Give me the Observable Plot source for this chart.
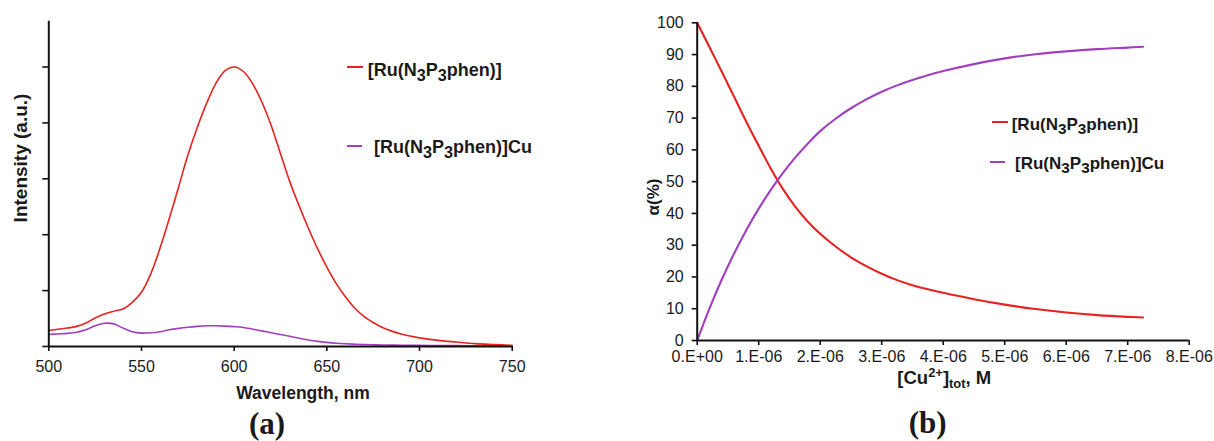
<!DOCTYPE html>
<html>
<head>
<meta charset="utf-8">
<script src="https://cdn.jsdelivr.net/npm/d3@7"></script>
<script src="https://cdn.jsdelivr.net/npm/@observablehq/plot@0.6"></script>
<style>
  html, body { margin: 0; padding: 0; background: #fff; }
  #fig { position: relative; width: 1214px; height: 441px; overflow: hidden; background: #fff;
         font-family: "Liberation Sans", Arial, sans-serif; color: #1a1a1a; }
  #fig svg { position: absolute; top: 0; overflow: visible; }
  .t { position: absolute; white-space: nowrap; line-height: 1; transform: translate(-50%, -50%); }
  .lg { position: absolute; white-space: nowrap; line-height: 1; transform: translate(0, -50%); font-weight: bold; }
  .lg sub { font-size: 0.9em; vertical-align: -0.3em; line-height: 0; }
  .sw { position: absolute; height: 2px; }
  .b { font-weight: bold; }
  .serif { font-family: "Liberation Serif", "Times New Roman", serif; font-weight: bold; }
</style>
</head>
<body>
<div id="fig"></div>
<script>
// ---------- Panel (a): emission spectra ----------
const wavelength = [500,505,510,515,520,525,530,535,540,545,550,555,560,565,570,575,580,585,590,595,600,605,610,615,620,625,630,635,640,645,650,655,660,665,670,675,680,685,690,700,710,720,730,740,750];
const intensityRu = [0.286,0.31,0.33,0.36,0.42,0.51,0.58,0.63,0.67,0.79,0.97,1.30,1.76,2.29,2.85,3.42,3.91,4.34,4.70,4.93,5.00,4.92,4.70,4.37,3.95,3.45,2.95,2.52,2.12,1.75,1.42,1.13,0.89,0.69,0.54,0.43,0.34,0.275,0.225,0.155,0.11,0.08,0.052,0.035,0.02];
const intensityRuCu = [0.215,0.225,0.235,0.256,0.30,0.37,0.415,0.405,0.33,0.265,0.24,0.245,0.265,0.30,0.325,0.345,0.36,0.37,0.37,0.365,0.355,0.34,0.31,0.28,0.245,0.215,0.183,0.148,0.117,0.092,0.073,0.059,0.049,0.041,0.035,0.03,0.027,0.025,0.022,0.02,0.017,0.015,0.013,0.011,0.01];
const wlTicks = [500,550,600,650,700,750];
const intensityTicks = [0,1,2,3,4,5];

// ---------- Panel (b): species distribution ----------
const concCu = [0,0.2e-6,0.4e-6,0.6e-6,0.8e-6,1.0e-6,1.2e-6,1.4e-6,1.6e-6,1.8e-6,2.0e-6,2.25e-6,2.5e-6,2.75e-6,3.0e-6,3.25e-6,3.5e-6,3.75e-6,4.0e-6,4.5e-6,5.0e-6,5.5e-6,6.0e-6,6.5e-6,7.0e-6,7.25e-6];
const alphaRu = [100,92.3,84.6,76.7,68.8,61.3,54.0,47.5,42.0,37.4,33.6,29.6,26.2,23.4,21.0,19.0,17.4,16.1,15.0,13.0,11.3,9.9,8.8,8.0,7.45,7.25];
const alphaRuCu = [0,10.1,19.2,27.4,34.8,41.5,47.5,52.9,57.7,62.0,65.9,69.8,73.1,75.9,78.3,80.3,82.0,83.5,84.8,87.0,88.8,90.1,91.0,91.7,92.2,92.45];
const concTicks = [0,1e-6,2e-6,3e-6,4e-6,5e-6,6e-6,7e-6,8e-6];
const concTickLabels = ["0.E+00","1.E-06","2.E-06","3.E-06","4.E-06","5.E-06","6.E-06","7.E-06","8.E-06"];
const alphaTicks = [0,10,20,30,40,50,60,70,80,90,100];

const seriesColors = ["#e8231f", "#a03fbf"];

const fig = document.getElementById("fig");
const baseStyle = {
  fontFamily: '"Liberation Sans", Arial, sans-serif',
  fontSize: "16px",
  color: "#1a1a1a",
  background: "transparent",
  overflow: "visible"
};

const left = Plot.plot({
  width: 600, height: 441,
  marginLeft: 48.3, marginRight: 88.3, marginTop: 20.7, marginBottom: 95,
  x: { domain: [500, 750] },
  y: { domain: [0, 5.82] },
  style: baseStyle,
  marks: [
    Plot.line(intensityRu, { x: wavelength, y: intensityRu, stroke: seriesColors[0], strokeWidth: 1.6, curve: "catmull-rom" }),
    Plot.line(intensityRuCu, { x: wavelength, y: intensityRuCu, stroke: seriesColors[1], strokeWidth: 1.6, curve: "catmull-rom" }),
    Plot.axisX({ ticks: wlTicks, tickSize: 5, tickPadding: 9, label: null, stroke: "#111", strokeWidth: 1.6, fill: "#1a1a1a" }),
    Plot.axisY({ ticks: intensityTicks, tickSize: 6, tickFormat: () => "", label: null, stroke: "#111", strokeWidth: 1.6 }),
    Plot.ruleY([0], { stroke: "#111", strokeWidth: 2 }),
    Plot.ruleX([500], { stroke: "#111", strokeWidth: 2 })
  ]
});
left.style.left = "0px";
fig.appendChild(left);

const right = Plot.plot({
  width: 614, height: 441,
  marginLeft: 96.7, marginRight: 25.3, marginTop: 22.3, marginBottom: 101,
  x: { domain: [0, 8e-6] },
  y: { domain: [0, 100] },
  style: baseStyle,
  marks: [
    Plot.line(alphaRu, { x: concCu, y: alphaRu, stroke: seriesColors[0], strokeWidth: 2.1, curve: "catmull-rom" }),
    Plot.line(alphaRuCu, { x: concCu, y: alphaRuCu, stroke: seriesColors[1], strokeWidth: 2.1, curve: "catmull-rom" }),
    Plot.axisX({ ticks: concTicks, tickSize: 5, tickPadding: 5.5, label: null,
      tickFormat: d => concTickLabels[concTicks.indexOf(d)], stroke: "#111", strokeWidth: 1.6, fill: "#1a1a1a" }),
    Plot.axisY({ ticks: alphaTicks, tickSize: 5, tickPadding: 8.5, label: null, stroke: "#111", strokeWidth: 1.6, fill: "#1a1a1a" }),
    Plot.ruleY([0], { stroke: "#111", strokeWidth: 2 }),
    Plot.ruleX([0], { stroke: "#111", strokeWidth: 2 })
  ]
});
right.style.left = "600px";
fig.appendChild(right);

// ---------- text overlays ----------
function addText(html, x, y, cls, css, rotate) {
  const d = document.createElement("div");
  d.className = cls;
  d.innerHTML = html;
  d.style.left = x + "px";
  d.style.top = y + "px";
  Object.assign(d.style, css || {});
  if (rotate) d.style.transform = "translate(-50%, -50%) rotate(" + rotate + "deg)";
  fig.appendChild(d);
  return d;
}
function addSwatch(x, y, w, color) {
  const d = document.createElement("div");
  d.className = "sw";
  d.style.left = x + "px";
  d.style.top = (y - 1) + "px";
  d.style.width = w + "px";
  d.style.background = color;
  fig.appendChild(d);
}
const nameRu = "[Ru(N<sub>3</sub>P<sub>3</sub>phen)]";
const nameRuCu = "[Ru(N<sub>3</sub>P<sub>3</sub>phen)]Cu";

// Panel (a)
addText("Intensity (a.u.)", 20, 158, "t b", { fontSize: "19px" }, -90);
addText("Wavelength, nm", 303, 394, "t b", { fontSize: "17.5px" });
addText("(a)", 267, 423, "t serif", { fontSize: "31px" });
addSwatch(347, 66.7, 16, seriesColors[0]);
addText(nameRu, 367.7, 69.7, "lg", { fontSize: "18px" });
addSwatch(347, 145.7, 15, seriesColors[1]);
addText(nameRuCu, 374, 147, "lg", { fontSize: "18px" });

// Panel (b)
addText("\u03b1(%)", 653, 197, "t b", { fontSize: "17px" }, -90);
addText("[Cu<sup style='font-size:0.7em;vertical-align:0.55em;line-height:0'>2+</sup>]<sub style='font-size:0.7em;vertical-align:-0.35em;line-height:0'>tot</sub>, M", 944.3, 378, "t b", { fontSize: "18.5px" });
addText("(b)", 927.7, 422, "t serif", { fontSize: "31px" });
addSwatch(991.7, 121.7, 16, seriesColors[0]);
addText(nameRu, 1011.7, 123.8, "lg", { fontSize: "17px" });
addSwatch(990, 161.7, 15, seriesColors[1]);
addText(nameRuCu, 1015, 163, "lg", { fontSize: "17px" });
</script>
</body>
</html>
